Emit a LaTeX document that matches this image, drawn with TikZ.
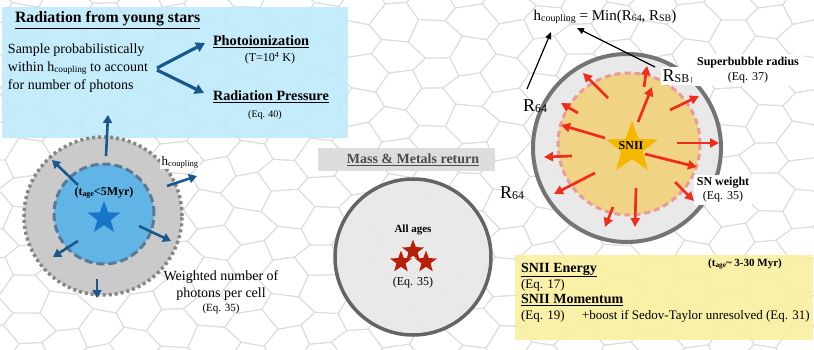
\documentclass[tikz,border=0pt]{standalone}
\usepackage{fontspec}
\usepackage{graphicx}
\setmainfont{Liberation Serif}
\usetikzlibrary{shapes.geometric,arrows.meta}
\definecolor{boxblue}{RGB}{190,234,250}
\definecolor{darkblue}{RGB}{24,88,140}
\definecolor{lgray}{RGB}{200,200,200}
\definecolor{midblue}{RGB}{92,180,232}
\definecolor{starblue}{RGB}{24,118,200}
\definecolor{dashblue}{RGB}{92,120,148}
\definecolor{cgray}{RGB}{232,232,232}
\definecolor{bordergray}{RGB}{100,100,100}
\definecolor{boxgray}{RGB}{220,220,220}
\definecolor{darkred}{RGB}{184,30,10}
\definecolor{sborange}{RGB}{242,210,128}
\definecolor{pinkdash}{RGB}{234,154,154}
\definecolor{gold}{RGB}{245,184,0}
\definecolor{arrred}{RGB}{240,44,26}
\definecolor{boxyellow}{RGB}{250,240,162}
\definecolor{meshgray}{RGB}{220,220,220}
\newcommand\fsz[1]{\fontsize{#1}{#1}\selectfont}
\newcommand\lowsub[1]{\raisebox{-0.15ex}{\scalebox{0.66}{#1}}}
\newcommand\jpt[3]{%
  \pgfmathsetmacro\jx{#2+4*sin(13*(#2)+7*(#3))}%
  \pgfmathsetmacro\jy{#3+3*cos(11*(#2)-5*(#3))}%
  \coordinate (#1) at (\jx,\jy);}
\tikzset{
  meshline/.style={draw=meshgray, line width=0.9, line join=round},
  txt/.style={inner sep=0, outer sep=0},
  bluearrow/.style={draw=darkblue, line width=3.2, -{Triangle[length=9,width=10]}},
  smallblue/.style={draw=darkblue, line width=2.6, -{Triangle[length=8,width=9]}},
  redarrow/.style={draw=arrred, line width=2.7, -{Triangle[length=9,width=9]}},
  blackarrow/.style={draw=black, line width=1.2, -{Triangle[length=7,width=6]}},
  starshape/.style={star, star points=5, star point ratio=2.4, inner sep=0},
}
\begin{document}
\begin{tikzpicture}[x=1pt,y=-1pt]
\useasboundingbox (0,0) rectangle (814,350);
\fill[white] (0,0) rectangle (814,350);
% background mesh
\begin{scope}
\clip (0,0) rectangle (814,350);
\foreach \i in {0,...,23} {
  \foreach \j in {-1,...,10} {
    \pgfmathsetmacro\cx{\i*37-10}
    \pgfmathsetmacro\cy{\j*34+mod(\i,2)*17+5}
    \jpt{v1}{\cx+25}{\cy}
    \jpt{v2}{\cx+12}{\cy+17}
    \jpt{v3}{\cx-12}{\cy+17}
    \jpt{v4}{\cx-25}{\cy}
    \jpt{v5}{\cx-12}{\cy-17}
    \jpt{v6}{\cx+12}{\cy-17}
    \draw[meshline] (v1) -- (v2) -- (v3) -- (v4) -- (v5) -- (v6) -- cycle;
  }
}
\end{scope}

% ---------- Radiation box ----------
\node[rectangle, fill=boxblue, fill opacity=0.88, minimum width=346, minimum height=131, anchor=north west, inner sep=0] (radbox) at (2,7) {};
\node[txt, anchor=west] (radtitle) at (15,20) {\fsz{15.8}\bfseries\underline{Radiation from young stars}};
\node[txt, anchor=west] (samp1) at (8,50) {\fsz{14}Sample probabilistically};
\node[txt, anchor=west] (samp2) at (8,68) {\fsz{14}within h\lowsub{coupling} to account};
\node[txt, anchor=west] (samp3) at (8,86) {\fsz{14}for number of photons};
\node[txt, anchor=west] (photo) at (213,42) {\fsz{14.3}\bfseries\underline{Photoionization}};
\node[txt] (temp) at (270,58) {\fsz{12}(T=10\textsuperscript{4} K)};
\node[txt, anchor=west] (radp) at (213,97) {\fsz{14.2}\bfseries\underline{Radiation Pressure}};
\node[txt] (eq40) at (265,115) {\fsz{10}(Eq. 40)};
\coordinate (fork1) at (157,68);
\coordinate (fork2) at (157,70);
\coordinate (photoend) at (205,43);
\coordinate (radpend) at (204,93);
\draw[bluearrow] (fork1) -- (photoend);
\draw[bluearrow] (fork2) -- (radpend);

% ---------- Left circle ----------
\node[circle, fill=lgray, fill opacity=0.95, draw=gray!95, line width=3.5, dash pattern=on 3 off 3, minimum size=158, inner sep=0] (hcirc) at (103,216) {};
\node[circle, fill=midblue, fill opacity=0.95, draw=dashblue, line width=3, dash pattern=on 8 off 4, minimum size=100, inner sep=0] (youngcirc) at (104,214) {};
\node[starshape, fill=starblue, minimum size=34] (bluestar) at (104,218) {};
\node[txt] (tage) at (104,193) {\fsz{12}\bfseries (t\lowsub{age}<5Myr)};
\node[txt, fill=white, fill opacity=0.9, text opacity=1, inner sep=1.5] (hcoup) at (180,162) {\fsz{13}h\lowsub{coupling}};
\node[txt] (w1) at (221,277) {\fsz{14}Weighted number of};
\node[txt] (w2) at (221,294) {\fsz{14}photons per cell};
\node[txt] (w3) at (221,309) {\fsz{11}(Eq. 35)};
\foreach \k/\sx/\sy/\ex/\ey in {1/106/156/108/115, 2/78/185/52/160, 3/167/186/197/176, 4/139/226/171/241, 5/78/241/53/257, 6/97/279/97/298} {
  \coordinate (bs\k) at (\sx,\sy);
  \coordinate (be\k) at (\ex,\ey);
  \draw[smallblue] (bs\k) -- (be\k);
}

% ---------- Middle ----------
\node[rectangle, fill=boxgray, fill opacity=0.95, minimum width=177, minimum height=23, inner sep=0] (massbox) at (406.5,159.5) {};
\node[txt, text=black!70] (masstxt) at (413,160) {\fsz{14}\bfseries\underline{Mass \& Metals return}};
\node[circle, fill=cgray, fill opacity=0.92, draw=bordergray, line width=3.5, minimum size=156, inner sep=0] (r64circ) at (413,257) {};
\node[txt] (r64a) at (512,193) {\fsz{18}R\lowsub{64}};
\node[txt] (allages) at (413,230) {\fsz{11}\bfseries All ages};
\node[starshape, fill=darkred, minimum size=23] (rs1) at (413,251) {};
\node[starshape, fill=darkred, minimum size=23] (rs2) at (401,262) {};
\node[starshape, fill=darkred, minimum size=23] (rs3) at (426,262) {};
\node[txt] (eq35m) at (413,283) {\fsz{12}(Eq. 35)};

% ---------- Right circle ----------
\node[circle, fill=cgray, fill opacity=0.92, draw=bordergray!90, line width=4, minimum size=188, inner sep=0] (outerR) at (627,148) {};
\node[circle, fill=sborange, fill opacity=0.95, draw=pinkdash, line width=3, dash pattern=on 6 off 4, minimum size=142, inner sep=0] (sbcirc) at (629,144) {};
\node[starshape, fill=gold, minimum size=54] (snstar) at (632,148) {};
\node[txt] (sntxt) at (631,146) {\fsz{12}\bfseries SNII};
\foreach \k/\sx/\sy/\ex/\ey in {1/608/98/583/73, 2/644/87/647/66, 3/638/122/652/87, 4/670/110/699/96, 5/578/113/561/103, 6/605/138/561/125, 7/677/143/719/143, 8/572/156/544/157, 9/645/154/697/167, 10/595/173/554/194, 11/675/182/694/201, 12/636/188/635/227, 13/613/207/605/227} {
  \coordinate (rs\k) at (\sx,\sy);
  \coordinate (re\k) at (\ex,\ey);
  \draw[redarrow] (rs\k) -- (re\k);
}
\node[txt] (hmin) at (605,17) {\fsz{15}h\lowsub{coupling} = Min(R\lowsub{64}, R\lowsub{SB})};
\node[txt] (r64b) at (535,106) {\fsz{18}R\lowsub{64}};
\node[txt, fill=white, inner sep=2] (rsb) at (676,76) {\fsz{18}R\lowsub{SB}};
\node[txt, fill=white, inner sep=3, minimum width=112, align=center] (sbr) at (748,70) {\fsz{12}\bfseries Superbubble radius\\[3pt]\fsz{12}\mdseries (Eq. 37)};
\node[txt, fill=white, inner sep=2.5, align=center] (snw) at (723,190) {\fsz{12}\bfseries SN weight\\[2pt]\fsz{12}\mdseries (Eq. 35)};
\coordinate (hminl) at (551,32);
\coordinate (hminr) at (577,28);
\coordinate (r64tip) at (527,89);
\coordinate (rsbtip) at (655,67);
\draw[blackarrow] (r64tip) -- (hminl);
\draw[blackarrow] (rsbtip) -- (hminr);

% ---------- Yellow box ----------
\node[rectangle, fill=boxyellow, fill opacity=0.92, minimum width=298, minimum height=85, anchor=north west, inner sep=0] (snbox) at (515,255) {};
\node[txt, anchor=west] (sne) at (521,270) {\fsz{14}\bfseries\underline{SNII Energy}};
\node[txt] (tage2) at (745,264) {\fsz{11}\bfseries (t\lowsub{age}\textasciitilde{} 3-30 Myr)};
\node[txt, anchor=west] (eq17) at (521,285) {\fsz{13}(Eq. 17)};
\node[txt, anchor=west] (snm) at (521,300) {\fsz{14}\bfseries\underline{SNII Momentum}};
\node[txt, anchor=west] (eq19) at (521,316) {\fsz{13}(Eq. 19)};
\node[txt, anchor=west] (boost) at (582,316) {\fsz{13}+boost if Sedov-Taylor unresolved (Eq. 31)};
\end{tikzpicture}
\end{document}
